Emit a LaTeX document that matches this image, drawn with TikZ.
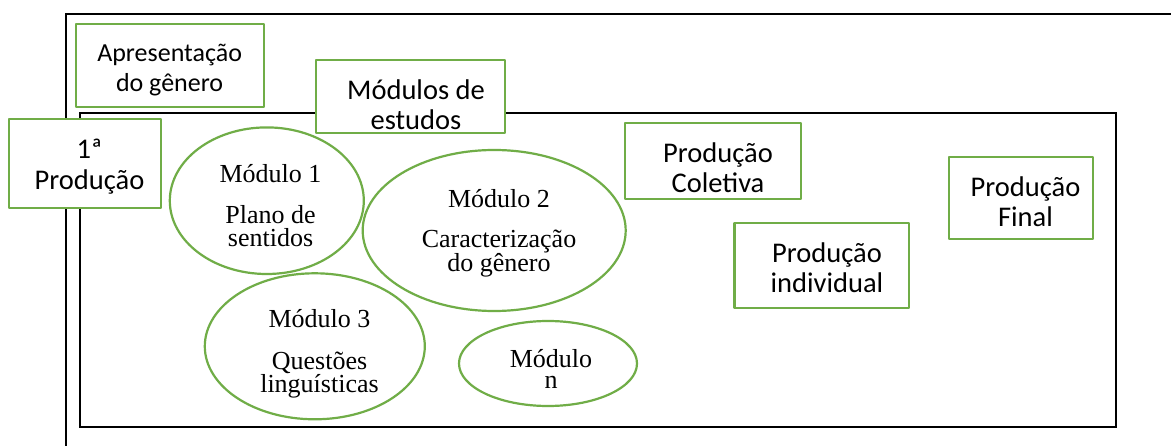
\documentclass[tikz,border=0pt]{standalone}
\usepackage{fontspec}
\setmainfont{Liberation Serif}
\newfontfamily\calibfont{Carlito}
\definecolor{boxgreen}{HTML}{70AD47}
\tikzset{
  frame/.style={draw=black,line width=2pt},
  gbox/.style={draw=boxgreen,line width=2.2pt,fill=white,line join=round},
  gell/.style={draw=boxgreen,line width=2.2pt},
  btxt/.style={font=\calibfont\fontsize{28.5}{30}\selectfont,align=center,inner sep=0pt,
    execute at begin node=\strut,execute at end node=\strut},
  etxt/.style={font=\fontsize{26}{23}\selectfont,align=center,inner sep=0pt,
    execute at begin node=\strut,execute at end node=\strut}
}
\begin{document}
\begin{tikzpicture}[x=1pt,y=-1pt]
\clip (0,0) rectangle (1171,446);
\fill[white] (0,0) rectangle (1171,446);
\draw[frame] (1180,14) -| (65.7,456);
\draw[frame] (80,113.3) rectangle (1116,426.7);
\draw[gbox] (76.3,24.3) rectangle (264,106.7);
\draw[gbox] (315.7,60) rectangle (505.2,132.7);
\draw[gbox] (9.3,119.3) rectangle (161,207.7);
\draw[gbox] (625.2,123.3) rectangle (800.9,199.3);
\draw[gbox] (734.5,223.3) rectangle (909,307.7);
\draw[gbox] (949.3,156.7) rectangle (1093.3,238.7);
\draw[gell] (266.8,200.7) ellipse [x radius=97,y radius=73.3];
\draw[gell] (494.2,230.5) ellipse [x radius=131.5,y radius=80.5];
\draw[gell] (314.8,346.3) ellipse [x radius=110,y radius=73];
\draw[gell] (548,363.5) ellipse [x radius=89,y radius=42.5];
\node[btxt,font=\calibfont\fontsize{26}{30}\selectfont] (apres) at (169.6,72.3) {Apresentação\\do gênero};
\node[btxt] (modulos) at (416,109) {Módulos de\\estudos};
\node[btxt] (prod1) at (89.5,169) {1ª\\[1.4pt]Produção};
\node[btxt] (coletiva) at (718,172.3) {Produção\\Coletiva};
\node[btxt] (individual) at (827,272.3) {Produção\\individual};
\node[btxt] (final) at (1025.5,205.7) {Produção\\Final};
\node[etxt] (mod1) at (270.5,209.1) {Módulo 1\\[18pt]Plano de\\sentidos};
\node[etxt] (mod2) at (499,233.9) {Módulo 2\\[17pt]Caracterização\\do gênero};
\node[etxt] (mod3) at (319.5,354.9) {Módulo 3\\[19pt]Questões\\linguísticas};
\node[etxt] (modn) at (551,372.9) {Módulo\\[-2pt]n};
\end{tikzpicture}
\end{document}
